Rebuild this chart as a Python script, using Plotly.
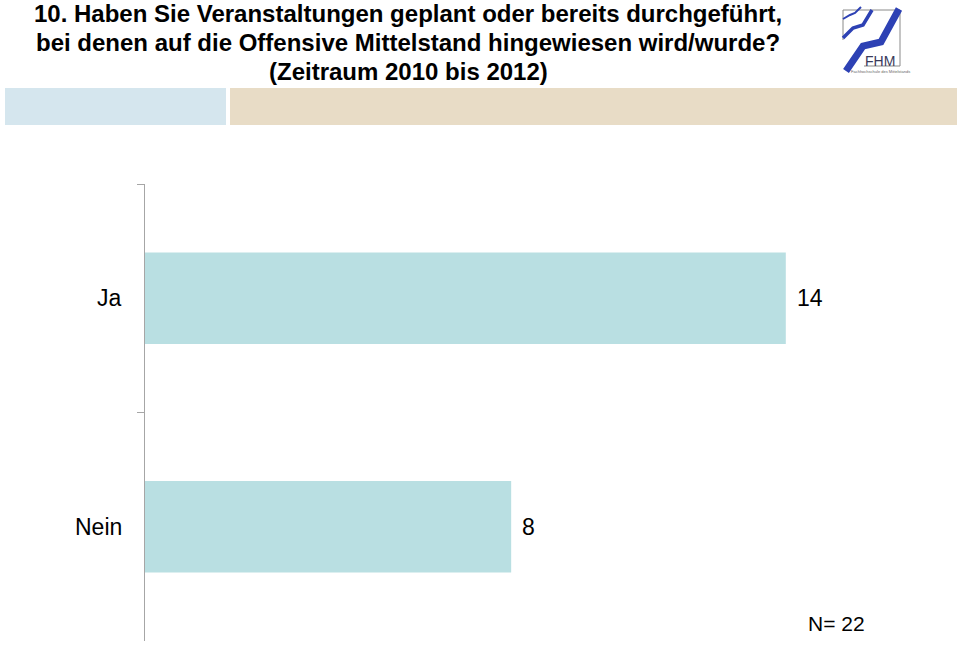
import plotly.graph_objects as go

categories = ["Ja", "Nein"]
values = [14, 8]
title_lines = [
    "10. Haben Sie Veranstaltungen geplant oder bereits durchgeführt,",
    "bei denen auf die Offensive Mittelstand hingewiesen wird/wurde?",
    "(Zeitraum 2010 bis 2012)",
]
n_text = "N= 22"

W, H = 960, 645
def px(x):
    return x / W
def py(y):
    return 1 - y / H

FONT = "Arial, Liberation Sans, Helvetica, sans-serif"
BAR = "#b9dfe2"
AXC = "#a6a6a6"
LOGO = "#2d41b4"

fig = go.Figure()
fig.add_trace(go.Bar(
    x=values, y=categories, orientation="h",
    marker=dict(color=BAR, line=dict(width=0)),
    width=0.4, hoverinfo="skip",
))

annotations = []
for i, line in enumerate(title_lines):
    annotations.append(dict(
        text=f"<b>{line}</b>", x=px(408), y=py([14, 42, 71][i]),
        xref="paper", yref="paper", xanchor="center", yanchor="middle",
        showarrow=False, font=dict(family=FONT, size=24, color="#000000"),
    ))
for c, v in zip(categories, values):
    annotations.append(dict(
        text=c, x=px(124), y=c, xref="paper", yref="y",
        xanchor="right", yanchor="middle", showarrow=False,
        font=dict(family=FONT, size=23, color="#000000"),
    ))
    annotations.append(dict(
        text=str(v), x=v, y=c, xref="x", yref="y", xshift=9,
        xanchor="left", yanchor="middle", showarrow=False,
        font=dict(family=FONT, size=23, color="#000000"),
    ))
annotations.append(dict(
    text=n_text, x=px(806), y=py(623), xref="paper", yref="paper",
    xanchor="left", yanchor="middle", showarrow=False,
    font=dict(family=FONT, size=21, color="#000000"),
))
annotations.append(dict(
    text="FHM", x=px(880), y=py(61), xref="paper", yref="paper",
    xanchor="center", yanchor="middle", showarrow=False,
    font=dict(family=FONT, size=14, color="#3a3a5a"),
))
annotations.append(dict(
    text="Fachhochschule des Mittelstands", x=px(880), y=py(71), xref="paper", yref="paper",
    xanchor="center", yanchor="middle", showarrow=False,
    font=dict(family=FONT, size=4, color="#666666"),
))

shapes = [
    dict(type="rect", xref="paper", yref="paper", x0=px(5), x1=px(226), y0=py(125), y1=py(88),
         fillcolor="#d5e6ee", line=dict(width=0), layer="below"),
    dict(type="rect", xref="paper", yref="paper", x0=px(230), x1=px(957), y0=py(125), y1=py(88),
         fillcolor="#e8dcc6", line=dict(width=0), layer="below"),
    # logo frame
    dict(type="path", xref="paper", yref="paper",
         path=f"M {px(843)} {py(40)} L {px(843)} {py(10)} L {px(900)} {py(10)} L {px(900)} {py(66)} L {px(864)} {py(66)}",
         line=dict(color="#8a8a8a", width=1)),
    # thin stroke
    dict(type="path", xref="paper", yref="paper",
         path=f"M {px(843)} {py(19)} L {px(850)} {py(15)} L {px(855)} {py(13)} L {px(861)} {py(7)}",
         line=dict(color=LOGO, width=2)),
    # medium stroke
    dict(type="path", xref="paper", yref="paper",
         path=f"M {px(843)} {py(38)} L {px(853)} {py(28)} L {px(863)} {py(25)} L {px(872)} {py(10)}",
         line=dict(color=LOGO, width=3.5)),
    # main stroke
    dict(type="path", xref="paper", yref="paper",
         path=f"M {px(846)} {py(71)} L {px(863)} {py(46)} L {px(881)} {py(42)} L {px(899)} {py(9)}",
         line=dict(color=LOGO, width=7)),
]

fig.update_layout(
    width=W, height=H,
    margin=dict(l=0, r=0, t=0, b=0),
    paper_bgcolor="#ffffff", plot_bgcolor="#ffffff",
    showlegend=False,
    annotations=annotations, shapes=shapes,
    bargap=0.6,
    xaxis=dict(domain=[px(145), px(946)], range=[0, 17.5], visible=False, fixedrange=True),
    yaxis=dict(
        domain=[py(641), py(184)], autorange="reversed",
        categoryorder="array", categoryarray=categories,
        showticklabels=False, showgrid=False, zeroline=False,
        showline=True, linecolor=AXC, linewidth=1,
        ticks="outside", ticklen=7, tickcolor=AXC, tickwidth=1,
        tickson="boundaries", fixedrange=True,
    ),
)

fig.write_html("out.html")
